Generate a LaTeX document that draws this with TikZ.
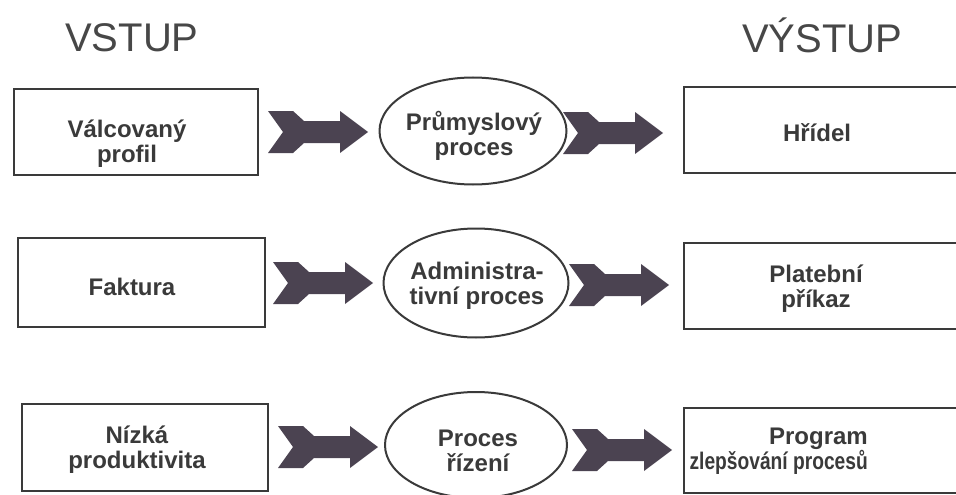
\documentclass[tikz,border=0pt]{standalone}
\usepackage{fontspec}
\usepackage{graphicx}
\setmainfont{Liberation Sans}
\usetikzlibrary{shapes.geometric}
\definecolor{ink}{HTML}{3A3A3A}
\definecolor{titleink}{HTML}{474747}
\definecolor{chev}{HTML}{4B4351}
\begin{document}
\begin{tikzpicture}[x=1pt,y=-1pt,
  frame/.style={draw=ink, line width=2.2pt, rectangle, inner sep=0pt},
  procell/.style={draw=ink, line width=2pt, ellipse, inner sep=0pt},
  lbl/.style={text=ink, font=\fontsize{24}{25}\selectfont\bfseries, align=center, inner sep=0pt},
  heading/.style={text=titleink, font=\fontsize{40}{44}\selectfont, inner sep=0pt, anchor=base west},
  chevron/.pic={
    \fill[chev] (0,-21) -- (25,-21) -- (36,-11) -- (72,-11) -- (72,-21) -- (100,0)
      -- (72,21) -- (72,11) -- (36,11) -- (25,21) -- (0,21) -- (15,0) -- cycle;
  }
]
\path[use as bounding box, fill=white] (0,0) rectangle (956,495);
\clip (0,0) rectangle (956,495);

% column headings
\node[heading] (hin)  at (65,52)  {VSTUP};
\node[heading] (hout) at (742,53) {VÝSTUP};

% input boxes
\node[frame, minimum width=244, minimum height=86] (in1) at (136,132)   {};
\node[frame, minimum width=247, minimum height=89] (in2) at (141.5,282.5) {};
\node[frame, minimum width=246, minimum height=87] (in3) at (145,447.5) {};
\node[lbl] (in1t) at (127,143.5) {Válcovaný\\profil};
\node[lbl] (in2t) at (132,287)   {Faktura};
\node[lbl] (in3t) at (137,449.5) {Nízká\\produktivita};

% processes
\node[procell, minimum width=187, minimum height=107] (p1) at (473,131) {};
\node[procell, minimum width=185, minimum height=109] (p2) at (476,283) {};
\node[procell, minimum width=182, minimum height=106] (p3) at (476,445) {};
\node[lbl] (p1t) at (474,136)   {Průmyslový\\proces};
\node[lbl] (p2t) at (477,285.5) {Administra-\\tivní proces};
\node[lbl] (p3t) at (478,451)   {Proces\\řízení};

% output boxes (running past the right edge)
\node[frame, minimum width=316, minimum height=86] (out1) at (842,130)   {};
\node[frame, minimum width=316, minimum height=86] (out2) at (842,286)   {};
\node[frame, minimum width=316, minimum height=85] (out3) at (842,450.5) {};
\node[lbl] (out1t) at (817,132.5) {Hřídel};
\node[lbl] (out2t) at (816,289)   {Platební\\příkaz};
\node[lbl, align=right, anchor=east] (out3t) at (868,451)
  {Program\\\scalebox{0.8}[1]{zlepšování procesů}};

% flow chevrons
\pic (c1a) at (268,132) {chevron};
\pic (c1b) at (563,133) {chevron};
\pic (c2a) at (273,283) {chevron};
\pic (c2b) at (569,285) {chevron};
\pic (c3a) at (278,447) {chevron};
\pic (c3b) at (572,450) {chevron};
\end{tikzpicture}
\end{document}
